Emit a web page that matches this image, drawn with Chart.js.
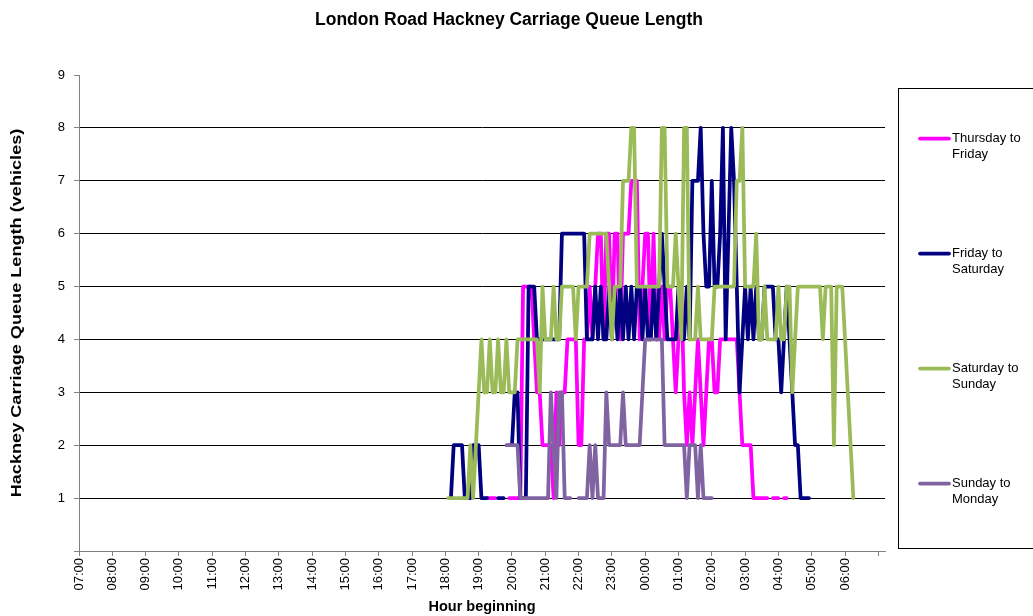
<!DOCTYPE html>
<html>
<head>
<meta charset="utf-8">
<title>London Road Hackney Carriage Queue Length</title>
<script src="https://cdn.jsdelivr.net/npm/chart.js@4.4.1/dist/chart.umd.min.js"></script>
<style>
  html, body { margin: 0; padding: 0; background: #fff; }
  #wrap { width: 1033px; height: 616px; }
</style>
</head>
<body>
<div id="wrap"><canvas id="queueChart" width="1033" height="616"></canvas></div>
<script>
// hour labels along the bottom axis, starting 07:00
const hourLabels = ['07:00', '08:00', '09:00', '10:00', '11:00', '12:00', '13:00', '14:00',
    '15:00', '16:00', '17:00', '18:00', '19:00', '20:00', '21:00', '22:00',
    '23:00', '00:00', '01:00', '02:00', '03:00', '04:00', '05:00', '06:00'];

// counts are logged every 5 minutes, first reading 18:05 (null = no reading)
const firstSlotMinutes = 18 * 60 + 5;
const slotMinutes = 5;

const seriesNames = ['Thursday to Friday', 'Friday to Saturday', 'Saturday to Sunday', 'Sunday to Monday'];
const seriesColors = ['#ff00ff', '#000080', '#9bbb59', '#8064a2'];

const thursdayToFriday = [
    null, null, null, null, null, null, null, null, null, null, null, null, null, null,
    1, 1, 1, 1, null, null, null, null, 1, 1, 1, 1, 1,
    5, 5, 5, 5, 4, 3, 3, 2, 2, 2, 2, 1, 3, 2, 3, 3, 4, 4, 4, 4, 2, 2, 4,
    4, 5, 4, 5, 6, 6, 4, 6, 6, 4, 6, 6, 4, 6, 6, 6, 7, 7, 7, 4,
    5, 6, 6, 4, 6, 4, 4, 5, 4, 5, 5, 4, 3, 4, 5, 3, 2, 3, 2, 3,
    4, 3, 2, 3, 4, 4, 3, 3, 4, 4, 4, 4, 4, 4, 4, 3, 2, 2, 2, 2,
    1, 1, 1, 1, 1, 1, null, 1, 1, 1, null, 1, 1
];

const fridayToSaturday = [
    null, 1, 2, 2, 2, 2, 1, 1, 1, 2, 2, 2, 1, 1, 1, null, null, null, 1, 1, 1, null,
    2, 2, 3, 3, 1, 1, 1, 5, 5, 5, 4, 4, 4, 4, 4, 4, 4, 4, 4,
    6, 6, 6, 6, 6, 6, 6, 6, 6, 4, 4, 4, 5, 4, 5, 4, 4, 5, 4, 5,
    4, 5, 4, 5, 4, 5, 4, 5, 5, 4, 5, 4, 4, 5, 4, 5, 6, 5, 4, 4,
    4, 4, 5, 4, 4, 5, 4, 7, 7, 7, 8, 6, 5, 5, 7, 5, 5, 6, 8, 4,
    6, 8, 7, 5, 3, 4, 5, 4, 5, 4, 5, 4, 4, 5, 5, 5, 5, 4, 4, 3,
    4, 5, 4, 3, 2, 2, 1, 1, 1, 1
];

const saturdayToSunday = [
    1, 1, 1, 1, 1, 1, 1, 1, 2, 1, 2, 3, 4, 3, 3, 4, 3, 3, 4, 3,
    3, 4, 3, 3, 3, 4, 4, 4, 4, 4, 4, 4, 4, 3, 5, 4, 4, 4, 5, 4,
    4, 5, 5, 5, 5, 5, 4, 5, 5, 5, 5, 6, 6, 6, 6, 6, 6, 6, 5, 4,
    5, 5, 5, 7, 7, 7, 8, 8, 5, 5, 5, 5, 5, 5, 5, 5, 5, 8, 8, 5,
    5, 5, 6, 5, 4, 8, 8, 4, 4, 4, 5, 4, 4, 4, 4, 4, 5, 5, 5, 5,
    5, 5, 5, 5, 7, 7, 8, 5, 5, 5, 5, 6, 4, 4, 5, 4, 4, 4, 4, 5,
    4, 4, 5, 5, 3, 4, 5, 5, 5, 5, 5, 5, 5, 5, 5, 4, 5, 5, 5, 2,
    5, 5, 5, 4, 3, 2, 1
];

const sundayToMonday = [
    null, null, null, null, null, null, null, null, null, null, null, null, null, null,
    null, null, null, null, null, null, null,
    2, 2, 2, 2, 2, 1, 1, 1, 1, 1, 1, 1, 1, 1, 1, 1, 3, 2, 1, 3,
    3, 1, 1, 1, null, null, 1, 1, 1, 1, 2, 1, 2, 1, 1, 1, 3, 2, 2, 2,
    2, 2, 3, 2, 2, 2, 2, 2, 2, 3, 4, 4, 4, 4, 4, 4, 4, 2, 2, 2,
    2, 2, 2, 2, 2, 1, 2, 2, 2, 1, 2, 1, 1, 1, 1
];

const seriesValues = [thursdayToFriday, fridayToSaturday, saturdayToSunday, sundayToMonday];

const chartTitle = 'London Road Hackney Carriage Queue Length';
const yAxisTitle = 'Hackney Carriage Queue Length (vehicles)';
const fontFamily = "'Liberation Sans', Arial, sans-serif";

// x runs in hours after 07:00
function toPoints(values) {
    return values.map((v, i) => ({ x: (firstSlotMinutes + i * slotMinutes) / 60 - 7, y: v }));
}

// title, stretched y-axis title and the boxed legend on the right
const boxLegend = {
    id: 'boxLegend',
    afterDraw(chart) {
        const ctx = chart.ctx;
        const area = chart.chartArea;
        ctx.save();
        ctx.fillStyle = '#000';
        ctx.textBaseline = 'middle';

        ctx.font = 'bold 17.5px ' + fontFamily;
        ctx.textAlign = 'center';
        ctx.fillText(chartTitle, 509, 20);

        ctx.save();
        ctx.translate(16.5, (area.top + area.bottom) / 2);
        ctx.rotate(-Math.PI / 2);
        ctx.scale(1.25, 1);
        ctx.font = 'bold 14.5px ' + fontFamily;
        ctx.fillText(yAxisTitle, 0, 0);
        ctx.restore();

        const left = 898.5, top = 88.5, bottom = 548.5;
        ctx.strokeStyle = '#000';
        ctx.lineWidth = 1;
        ctx.strokeRect(left, top, 200, bottom - top);

        const step = (bottom - top) / chart.data.datasets.length;
        ctx.font = '13px ' + fontFamily;
        ctx.textAlign = 'left';
        chart.data.datasets.forEach((ds, i) => {
            const y = top + 50 + step * i;
            ctx.strokeStyle = ds.borderColor;
            ctx.lineWidth = 3.75;
            ctx.lineCap = 'round';
            ctx.beginPath();
            ctx.moveTo(920, y);
            ctx.lineTo(949, y);
            ctx.stroke();
            const parts = ds.label.split(' to ');
            ctx.fillText(parts[0] + ' to', 952, y);
            ctx.fillText(parts[1], 952, y + 15.5);
        });
        ctx.restore();
    }
};

new Chart(document.getElementById('queueChart'), {
    type: 'line',
    data: {
        datasets: seriesValues.map((values, i) => ({
            label: seriesNames[i],
            data: toPoints(values),
            borderColor: seriesColors[i],
            backgroundColor: seriesColors[i],
            borderWidth: 3.75,
            borderJoinStyle: 'round',
            borderCapStyle: 'round',
            pointRadius: 0,
            tension: 0,
            spanGaps: false,
            // later nights sit on top
            order: seriesValues.length - i
        }))
    },
    options: {
        responsive: false,
        animation: false,
        devicePixelRatio: 1,
        layout: { padding: { top: 75, right: 148, left: 0, bottom: 0 } },
        plugins: {
            legend: { display: false },
            tooltip: { enabled: false },
            title: { display: false }
        },
        scales: {
            x: {
                type: 'linear',
                min: 0,
                max: 24.2,
                afterBuildTicks: scale => {
                    scale.ticks = hourLabels.map((_, i) => ({ value: i })).concat([{ value: hourLabels.length }]);
                },
                afterFit: scale => { scale.height = 65; },
                ticks: {
                    autoSkip: false,
                    minRotation: 90,
                    maxRotation: 90,
                    padding: 2,
                    color: '#000',
                    font: { family: fontFamily, size: 13 },
                    callback: value => hourLabels[value] || ''
                },
                grid: { drawOnChartArea: false, tickLength: 5, color: '#808080' },
                border: { color: '#808080' },
                title: {
                    display: true,
                    text: 'Hour beginning',
                    color: '#000',
                    padding: 0,
                    font: { family: fontFamily, size: 14.5, weight: 'bold' }
                }
            },
            y: {
                min: 0,
                max: 9,
                afterFit: scale => { scale.width = 79; },
                ticks: {
                    stepSize: 1,
                    padding: 9,
                    color: '#000',
                    font: { family: fontFamily, size: 13 },
                    callback: value => value === 0 ? '' : value
                },
                grid: {
                    tickLength: 5,
                    tickColor: '#808080',
                    // no rule along the axis itself or across the top
                    color: c => c.tick && (c.tick.value === 0 || c.tick.value === 9) ? 'rgba(0,0,0,0)' : '#000'
                },
                border: { color: '#808080' },
                title: { display: false }
            }
        }
    },
    plugins: [boxLegend]
});
</script>
</body>
</html>
